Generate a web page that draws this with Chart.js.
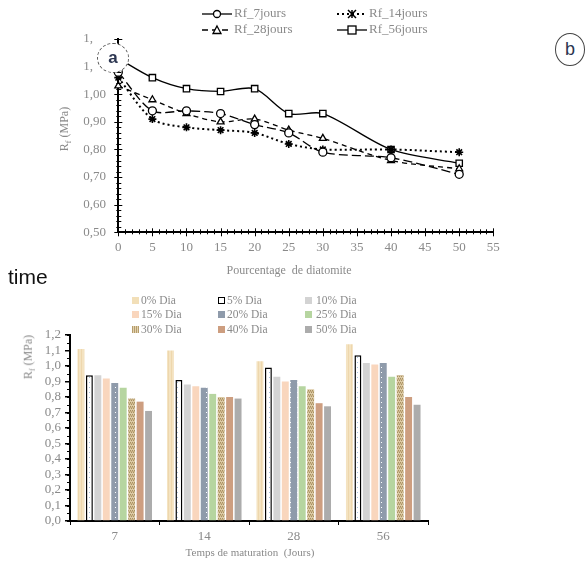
<!DOCTYPE html>
<html>
<head>
<meta charset="utf-8">
<script src="https://cdn.jsdelivr.net/npm/chart.js@4.4.1/dist/chart.umd.min.js"></script>
<style>
  body { margin: 0; background: #fff; }
  #page { position: relative; width: 585px; height: 565px; overflow: hidden; background: #fff; }
  .abs { position: absolute; }
  .serif { font-family: "Liberation Serif", "Times New Roman", serif; color: #8a8a8a; }
  .leg { position: absolute; height: 16px; line-height: 16px; font-size: 13px; white-space: nowrap; }
  .leg svg { vertical-align: middle; margin-right: 2px; }
  .bleg { position: absolute; font-size: 11.5px; line-height: 14px; white-space: nowrap; }
  .sw { display: inline-block; width: 7px; height: 7px; margin-right: 2px; vertical-align: 0px; box-sizing: border-box; }
  .rot { transform: translate(-50%, -50%) rotate(-90deg); white-space: nowrap; font-size: 12px; }
  .circ { position: absolute; border-radius: 50%; background: #fff; text-align: center;
          font-family: "Liberation Sans", Arial, sans-serif; color: #2b3550; }
</style>
</head>
<body>
<div id="page">
  <canvas id="lineChart" class="abs" width="585" height="285" style="left:0;top:0"></canvas>
  <canvas id="barChart" class="abs" width="585" height="275" style="left:0;top:290px"></canvas>

  <!-- legende graphe a -->
  <div class="leg serif" style="left:202px;top:5px"><svg width="30" height="12"><line x1="0" y1="6" x2="30" y2="6" stroke="#000" stroke-width="1.3"/><circle cx="15" cy="6" r="3.5" fill="#fff" stroke="#000" stroke-width="1.3"/></svg>Rf_7jours</div>
  <div class="leg serif" style="left:337px;top:5px"><svg width="30" height="12"><line x1="0" y1="6" x2="30" y2="6" stroke="#000" stroke-width="2" stroke-dasharray="2,3"/><path d="M11 2 L19 10 M19 2 L11 10 M15 2 L15 10" stroke="#000" stroke-width="1.5"/></svg>Rf_14jours</div>
  <div class="leg serif" style="left:202px;top:21px"><svg width="30" height="12"><line x1="0" y1="6" x2="30" y2="6" stroke="#000" stroke-width="1.3" stroke-dasharray="6,4"/><path d="M15 2 L19 9.5 L11 9.5 Z" fill="#fff" stroke="#000" stroke-width="1.3"/></svg>Rf_28jours</div>
  <div class="leg serif" style="left:337px;top:21px"><svg width="30" height="12"><line x1="0" y1="6" x2="30" y2="6" stroke="#000" stroke-width="1.3"/><rect x="11" y="2" width="8" height="8" fill="#fff" stroke="#000" stroke-width="1.3"/></svg>Rf_56jours</div>

  <div class="abs serif rot" style="left:65px;top:129px">R<sub style="font-size:8px">f</sub> (MPa)</div>
  <div class="abs serif" style="left:289px;top:263px;transform:translateX(-50%);font-size:12px;white-space:pre">Pourcentage  de diatomite</div>

  <div class="circ" style="left:97px;top:43px;width:30px;height:28px;line-height:28px;border:1px dashed #555;font-size:17px;font-weight:bold">a</div>
  <div class="circ" style="left:555px;top:33px;width:28px;height:31px;line-height:31px;border:1px solid #444;font-size:18px">b</div>

  <div class="abs" style="left:8px;top:265px;font-family:'Liberation Sans',Arial,sans-serif;font-size:21px;color:#111">time</div>

  <!-- legende graphe b -->
  <div class="bleg serif" style="left:132px;top:293px"><span class="sw" style="background:#f2dfb8"></span>0% Dia</div>
  <div class="bleg serif" style="left:218px;top:293px"><span class="sw" style="background:#fff;border:1.5px solid #000"></span>5% Dia</div>
  <div class="bleg serif" style="left:305px;top:293px"><span class="sw" style="background:#d3d3d3;margin-right:4px"></span>10% Dia</div>
  <div class="bleg serif" style="left:132px;top:307px"><span class="sw" style="background:#f9d6bd"></span>15% Dia</div>
  <div class="bleg serif" style="left:218px;top:307px"><span class="sw" style="background:#8f9bab"></span>20% Dia</div>
  <div class="bleg serif" style="left:305px;top:307px"><span class="sw" style="background:#b6d5a0;margin-right:4px"></span>25% Dia</div>
  <div class="bleg serif" style="left:132px;top:322px"><span class="sw" style="background:repeating-linear-gradient(90deg,#b59c6c 0 1px,#e3d3b0 1px 2px)"></span>30% Dia</div>
  <div class="bleg serif" style="left:218px;top:322px"><span class="sw" style="background:#cd9e80"></span>40% Dia</div>
  <div class="bleg serif" style="left:305px;top:322px"><span class="sw" style="background:#acacac;margin-right:4px"></span>50% Dia</div>

  <div class="abs serif rot" style="left:29px;top:357px">R<sub style="font-size:8px">f</sub> (MPa)</div>
  <div class="abs serif" style="left:250px;top:546px;transform:translateX(-50%);font-size:11px;white-space:pre">Temps de maturation  (Jours)</div>
</div>

<script>
// donnees graphe a : Rf en fonction du pourcentage de diatomite
const pourcentage = [0, 5, 10, 15, 20, 25, 30, 40, 50];
const rf7jours  = [1.08, 0.94, 0.94, 0.93, 0.89, 0.86, 0.79, 0.77, 0.71];
const rf14jours = [1.06, 0.91, 0.88, 0.87, 0.86, 0.82, 0.80, 0.80, 0.79];
const rf28jours = [1.03, 0.98, 0.93, 0.90, 0.91, 0.87, 0.84, 0.76, 0.73];
const rf56jours = [1.13, 1.06, 1.02, 1.01, 1.02, 0.93, 0.93, 0.80, 0.75];

// donnees graphe b : Rf en fonction du temps de maturation
const temps = ['7', '14', '28', '56'];
const dia0  = [1.11, 1.10, 1.03, 1.14];
const dia5  = [0.94, 0.91, 0.99, 1.07];
const dia10 = [0.94, 0.88, 0.93, 1.02];
const dia15 = [0.92, 0.87, 0.90, 1.01];
const dia20 = [0.89, 0.86, 0.91, 1.02];
const dia25 = [0.86, 0.82, 0.87, 0.93];
const dia30 = [0.79, 0.80, 0.85, 0.94];
const dia40 = [0.77, 0.80, 0.76, 0.80];
const dia50 = [0.71, 0.79, 0.74, 0.75];

const serif = "'Liberation Serif', 'Times New Roman', serif";
const gris = '#8a8a8a';

// petites graduations (mineures) dessinees sur les axes
const graduations = {
    id: 'graduations',
    afterDraw(chart, args, opts) {
        const ctx = chart.ctx;
        ctx.save();
        ctx.strokeStyle = '#000';
        ctx.lineWidth = 1;
        (opts.marks || []).forEach(m => {
            const s = chart.scales[m.axis];
            for (let v = m.from; v <= m.to + 1e-9; v += m.step) {
                const p = Math.round(s.getPixelForValue(v)) + 0.5;
                ctx.beginPath();
                if (m.axis === 'x') {
                    ctx.moveTo(p, s.top - m.inside);
                    ctx.lineTo(p, s.top + m.outside);
                } else {
                    ctx.moveTo(s.right - m.outside, p);
                    ctx.lineTo(s.right + m.inside, p);
                }
                ctx.stroke();
            }
        });
        ctx.restore();
    }
};

function serie(label, data, style, dash, width) {
    return {
        label: label,
        data: pourcentage.map((x, i) => ({ x: x, y: data[i] })),
        borderColor: '#000',
        borderWidth: width,
        borderDash: dash,
        pointStyle: style,
        pointRadius: 4,
        pointBorderWidth: 1.3,
        pointBorderColor: '#000',
        pointBackgroundColor: '#fff',
        tension: 0.3,
        clip: false
    };
}

const ds56 = serie('Rf_56jours', rf56jours, 'rect', [], 1.3);
ds56.pointRadius = 4.5;
ds56.pointBackgroundColor = pourcentage.map(x => x === 40 ? '#7a7a7a' : '#fff');
const ds14 = serie('Rf_14jours', rf14jours, 'star', [2, 3], 2);
ds14.pointBorderWidth = 1.6;

new Chart(document.getElementById('lineChart'), {
    type: 'line',
    data: {
        datasets: [
            serie('Rf_7jours', rf7jours, 'circle', [9, 4], 1.3),
            ds14,
            serie('Rf_28jours', rf28jours, 'triangle', [5, 4], 1.3),
            ds56
        ]
    },
    options: {
        responsive: false,
        animation: false,
        layout: { padding: { left: 83.3, right: 91.7, top: 39, bottom: 32.7 } },
        plugins: {
            legend: { display: false },
            tooltip: { enabled: false },
            graduations: {
                marks: [
                    { axis: 'x', from: 0, to: 55, step: 1, inside: 3, outside: 2 },
                    { axis: 'x', from: 0, to: 55, step: 5, inside: 4, outside: 4 },
                    { axis: 'y', from: 0.5, to: 1.2, step: 0.02, inside: 3, outside: 2 },
                    { axis: 'y', from: 0.5, to: 1.2, step: 0.1, inside: 4, outside: 4 }
                ]
            }
        },
        scales: {
            x: {
                type: 'linear', min: 0, max: 55,
                afterFit: s => { s.height = 20; },
                border: { color: '#000', width: 2 },
                grid: { display: false, drawTicks: false },
                ticks: { stepSize: 5, padding: 7, color: gris, font: { family: serif, size: 13 } }
            },
            y: {
                min: 0.5, max: 1.2,
                afterFit: s => { s.width = 35; },
                border: { color: '#000', width: 2 },
                grid: { display: false, drawTicks: false },
                ticks: {
                    stepSize: 0.1, padding: 7, crossAlign: 'far', autoSkip: false,
                    color: gris, font: { family: serif, size: 13 },
                    callback: v => v > 1.05 ? '1,' : v.toFixed(2).replace('.', ',')
                }
            }
        }
    },
    plugins: [graduations]
});

// motifs des barres
function motif(w, h, fond, dessin) {
    const c = document.createElement('canvas');
    c.width = w; c.height = h;
    const g = c.getContext('2d');
    g.fillStyle = fond;
    g.fillRect(0, 0, w, h);
    dessin(g);
    return g.createPattern(c, 'repeat');
}
const motif5 = motif(4, 5, '#fff', g => { g.fillStyle = '#a9c4e0'; g.fillRect(1, 2, 1, 1); });
const motif20 = motif(7, 5, '#8f9bab', g => { g.fillStyle = '#fff'; g.fillRect(3, 2, 1, 1); });
const motif30 = motif(4, 4, '#dccaa4', g => {
    g.fillStyle = '#a88f60';
    g.fillRect(0, 0, 1, 1); g.fillRect(2, 0, 1, 1); g.fillRect(1, 2, 1, 1); g.fillRect(3, 2, 1, 1);
    g.fillStyle = '#c4ad80';
    g.fillRect(0, 1, 4, 1);
});
const motif0 = motif(3, 6, '#f4e3c1', g => { g.fillStyle = '#eed7ad'; g.fillRect(0, 0, 1, 6); });

function barres(label, data, couleur, bord) {
    return {
        label: label, data: data, backgroundColor: couleur,
        borderColor: '#000', borderWidth: bord || 0,
        categoryPercentage: 0.85, barPercentage: 0.82
    };
}

new Chart(document.getElementById('barChart'), {
    type: 'bar',
    data: {
        labels: temps,
        datasets: [
            barres('0% Dia', dia0, motif0),
            barres('5% Dia', dia5, motif5, 1.5),
            barres('10% Dia', dia10, '#d3d3d3'),
            barres('15% Dia', dia15, '#f9d6bd'),
            barres('20% Dia', dia20, motif20),
            barres('25% Dia', dia25, '#b6d5a0'),
            barres('30% Dia', dia30, motif30),
            barres('40% Dia', dia40, '#cd9e80'),
            barres('50% Dia', dia50, '#acacac')
        ]
    },
    options: {
        responsive: false,
        animation: false,
        layout: { padding: { left: 40, right: 157, top: 45, bottom: 24 } },
        plugins: {
            legend: { display: false },
            tooltip: { enabled: false },
            graduations: {
                marks: [
                    { axis: 'y', from: 0, to: 1.2, step: 0.05, inside: 0, outside: 3 }
                ]
            }
        },
        scales: {
            x: {
                afterFit: s => { s.height = 20; },
                border: { color: '#000', width: 2 },
                grid: { drawOnChartArea: false, offset: true, tickLength: 4, color: '#000' },
                ticks: { padding: 4, color: gris, font: { family: serif, size: 13 } }
            },
            y: {
                min: 0, max: 1.2,
                afterFit: s => { s.width = 30; },
                border: { color: '#000', width: 2 },
                grid: { drawOnChartArea: false, tickLength: 5, color: '#000', lineWidth: 1.5 },
                ticks: {
                    stepSize: 0.1, padding: 4, autoSkip: false, color: gris, font: { family: serif, size: 13 },
                    callback: v => v.toFixed(1).replace('.', ',')
                }
            }
        }
    },
    plugins: [graduations]
});
</script>
</body>
</html>
